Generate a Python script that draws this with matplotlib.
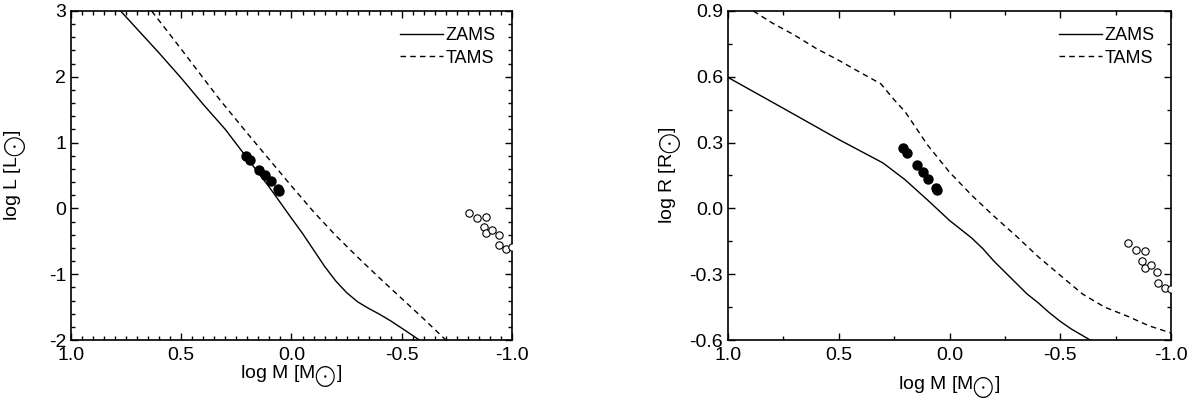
import numpy as np
import matplotlib
matplotlib.use('Agg')
import matplotlib.pyplot as plt
from matplotlib.ticker import MultipleLocator, FormatStrFormatter

plt.rcParams['font.family'] = ['Liberation Sans', 'DejaVu Sans']
plt.rcParams['mathtext.fontset'] = 'custom'
plt.rcParams['mathtext.rm'] = 'Liberation Sans'
plt.rcParams['axes.unicode_minus'] = False

# ZAMS / TAMS luminosity tracks (log M, log L)
zams_l_m = [0.775, 0.6, 0.5, 0.4, 0.3, 0.2, 0.1, 0.0, -0.05, -0.1, -0.15, -0.2,
            -0.25, -0.3, -0.35, -0.4, -0.45, -0.5, -0.58]
zams_l = [3.0, 2.36, 1.98, 1.58, 1.2, 0.76, 0.32, -0.15, -0.38, -0.63, -0.88, -1.10,
          -1.28, -1.42, -1.52, -1.61, -1.71, -1.82, -2.0]
tams_l_m = [0.634, 0.5, 0.4, 0.324, 0.2, 0.1, 0.0, -0.1, -0.2, -0.3, -0.4, -0.5,
            -0.6, -0.7]
tams_l = [3.0, 2.42, 1.98, 1.647, 1.14, 0.74, 0.34, -0.05, -0.41, -0.74, -1.06,
          -1.37, -1.68, -2.0]

# ZAMS / TAMS radius tracks (log M, log R)
zams_r_m = [1.0, 0.75, 0.5, 0.3, 0.2, 0.1, 0.0, -0.05, -0.1, -0.15, -0.2, -0.25,
            -0.3, -0.35, -0.4, -0.45, -0.5, -0.55, -0.635]
zams_r = [0.597, 0.456, 0.314, 0.207, 0.13, 0.039, -0.055, -0.095, -0.135, -0.183,
          -0.24, -0.29, -0.34, -0.39, -0.43, -0.475, -0.515, -0.55, -0.60]
tams_r_m = [0.886, 0.8, 0.7, 0.6, 0.5, 0.4, 0.31, 0.25, 0.2, 0.1, 0.0, -0.1, -0.2,
            -0.3, -0.4, -0.5, -0.6, -0.7, -0.8, -0.9, -1.0]
tams_r = [0.9, 0.845, 0.79, 0.728, 0.675, 0.618, 0.568, 0.495, 0.44, 0.29, 0.165,
          0.06, -0.035, -0.125, -0.22, -0.305, -0.39, -0.45, -0.49, -0.535, -0.568]

# filled circles
filled_m = [0.208, 0.19, 0.147, 0.122, 0.095, 0.063, 0.055]
filled_l = [0.80, 0.74, 0.59, 0.50, 0.42, 0.29, 0.27]
filled_r = [0.275, 0.252, 0.199, 0.165, 0.132, 0.094, 0.082]

# open circles
open_m = [-0.804, -0.84, -0.882, -0.871, -0.883, -0.91, -0.939, -0.941, -0.975, -1.0]
open_l = [-0.07, -0.15, -0.13, -0.29, -0.38, -0.33, -0.40, -0.56, -0.62, -0.58]
open_r = [-0.159, -0.191, -0.193, -0.240, -0.272, -0.258, -0.290, -0.339, -0.361, -0.368]

fig = plt.figure(figsize=(12.03, 4.04), dpi=100)
ax1 = fig.add_axes([0.0590, 0.1584, 0.3666, 0.8144])
ax2 = fig.add_axes([0.6052, 0.1584, 0.3682, 0.8144])

dash = (0, (4, 3))

def draw(ax, zm, zy, tm, ty, fy, oy):
    ax.plot(zm, zy, color='black', lw=1.0, label='ZAMS')
    ax.plot(tm, ty, color='black', lw=1.0, linestyle=dash, label='TAMS')
    ax.scatter(filled_m, fy, s=42, color='black', zorder=3)
    ax.scatter(open_m, oy, s=28, facecolors='white', edgecolors='black',
               linewidths=0.8, zorder=3)
    ax.set_xlim(1.0, -1.0)
    ax.xaxis.set_major_locator(MultipleLocator(0.5))
    ax.xaxis.set_major_formatter(FormatStrFormatter('%.1f'))
    ax.tick_params(which='both', direction='in', top=True, right=True,
                   labelsize=14, width=1.0)
    ax.tick_params(axis='x', which='both', pad=5)
    ax.tick_params(which='major', length=5)
    ax.tick_params(which='minor', length=3)
    for s in ax.spines.values():
        s.set_linewidth(1.2)
    ax.legend(loc='upper right', frameon=False, fontsize=13,
              handlelength=2.4, handletextpad=0.15, labelspacing=0.3,
              borderaxespad=0.6, borderpad=0.3)

draw(ax1, zams_l_m, zams_l, tams_l_m, tams_l, filled_l, open_l)
ax1.set_ylim(-2, 3)
ax1.xaxis.set_minor_locator(MultipleLocator(0.05))
ax1.yaxis.set_major_locator(MultipleLocator(1))
ax1.yaxis.set_minor_locator(MultipleLocator(0.2))
ax1.yaxis.set_major_formatter(FormatStrFormatter('%d'))
ax1.set_xlabel(r'log M [M$_{\bigodot}$]', fontsize=14, labelpad=-1)
ax1.set_ylabel(r'log L [L$_{\bigodot}$]', fontsize=14, labelpad=14)

draw(ax2, zams_r_m, zams_r, tams_r_m, tams_r, filled_r, open_r)
ax2.set_ylim(-0.6, 0.9)
ax2.xaxis.set_minor_locator(MultipleLocator(0.25))
ax2.yaxis.set_major_locator(MultipleLocator(0.3))
ax2.yaxis.set_minor_locator(MultipleLocator(0.15))
ax2.yaxis.set_major_formatter(FormatStrFormatter('%.1f'))
ax2.set_xlabel(r'log M [M$_{\bigodot}$]', fontsize=14, labelpad=7)
ax2.set_ylabel(r'log R [R$_{\bigodot}$]', fontsize=14, labelpad=4)

fig.savefig('out.png', dpi=100)
